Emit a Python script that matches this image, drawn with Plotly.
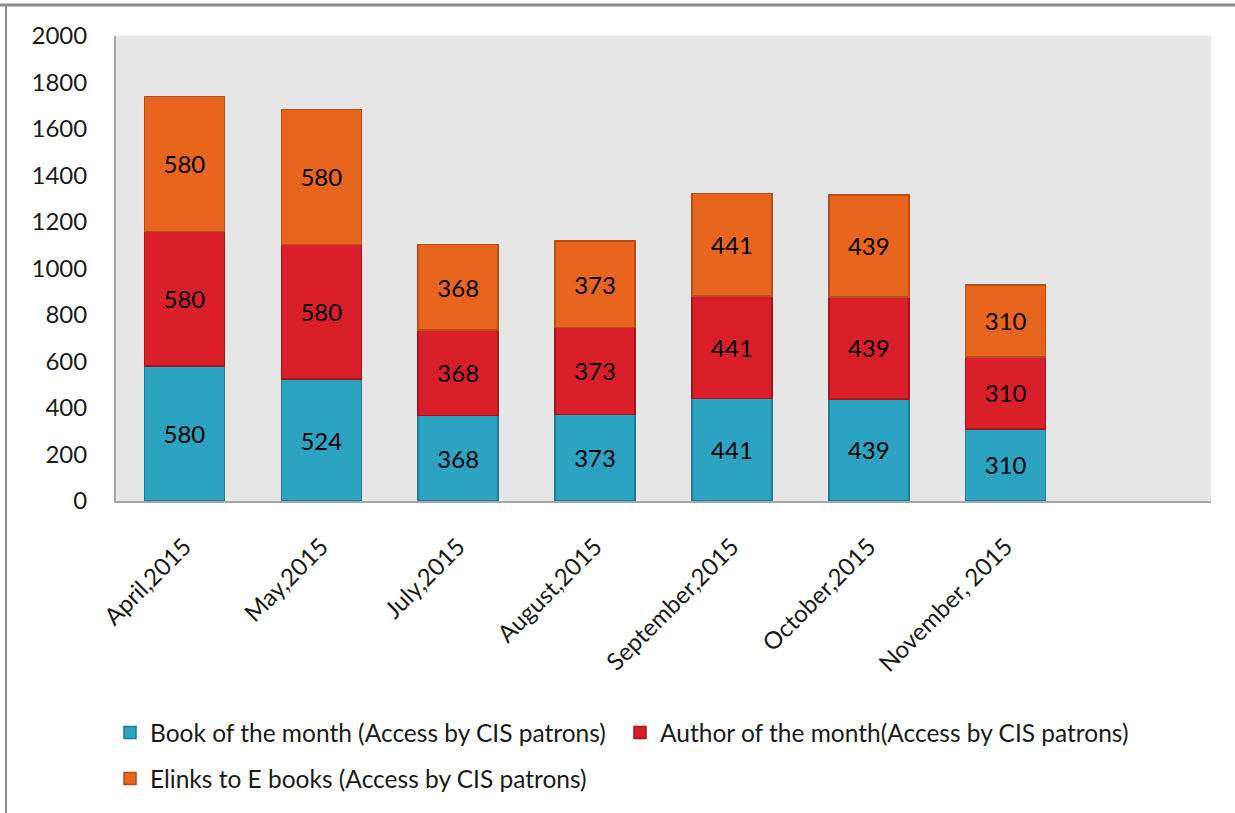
import plotly.graph_objects as go

months = ["April,2015", "May,2015", "July,2015", "August,2015",
          "September,2015", "October,2015", "November, 2015"]
book_of_month = [580, 524, 368, 373, 441, 439, 310]
author_of_month = [580, 580, 368, 373, 441, 439, 310]
elinks_ebooks = [580, 580, 368, 373, 441, 439, 310]

series_names = ["Book of the month (Access by CIS patrons)",
                "Author of the month(Access by CIS patrons)",
                "Elinks to E books (Access by CIS patrons)"]
series_values = [book_of_month, author_of_month, elinks_ebooks]
fill_colors = ["#2ca3c0", "#d91f2a", "#e8651d"]
edge_colors = ["#1f7d93", "#a5161e", "#b54e17"]
legend_ids = ["legend", "legend3", "legend2"]
y_ticks = [0, 200, 400, 600, 800, 1000, 1200, 1400, 1600, 1800, 2000]

FONT = "Lato, 'Open Sans', sans-serif"
FS = 24
LFS = 24.5

fig = go.Figure()
for name, vals, fc, ec, lg in zip(series_names, series_values, fill_colors,
                                  edge_colors, legend_ids):
    fig.add_trace(go.Bar(
        x=list(range(len(months))), y=vals, name=name, legend=lg,
        marker=dict(color=fc, line=dict(color=ec, width=1.5)),
        width=0.585,
        text=[str(v) for v in vals], textposition="inside",
        insidetextanchor="middle", constraintext="none",
        textfont=dict(color="#000000", size=FS, family=FONT),
        hoverinfo="skip",
    ))

W, H = 1235, 813
L, R, T, B = 116, 24, 36, 312
pw, ph = W - L - R, H - T - B


def px_x(p):
    return (p - L) / pw


def px_y(p):
    return (H - B - p) / ph


def cont_x(p):
    return p / W


def cont_y(p):
    return 1 - p / H


legend_common = dict(orientation="h", xanchor="left", yanchor="top",
                     xref="container", yref="container",
                     font=dict(size=LFS, family=FONT, color="#1a1a1a"),
                     itemwidth=30, tracegroupgap=0, traceorder="normal",
                     bgcolor="rgba(0,0,0,0)")

fig.update_layout(
    width=W, height=H, barmode="stack",
    margin=dict(l=L, r=R, t=T, b=B, autoexpand=False),
    paper_bgcolor="white", plot_bgcolor="#e6e6e6",
    font=dict(family=FONT, size=FS, color="#1a1a1a"),
    showlegend=True,
    legend=dict(x=cont_x(110), y=cont_y(710), **legend_common),
    legend3=dict(x=cont_x(620), y=cont_y(710), **legend_common),
    legend2=dict(x=cont_x(110), y=cont_y(756), **legend_common),
    shapes=[
        dict(type="line", xref="paper", yref="paper",
             x0=px_x(0), x1=px_x(1235), y0=px_y(5), y1=px_y(5),
             line=dict(color="#8c8c8c", width=3)),
        dict(type="line", xref="paper", yref="paper",
             x0=px_x(6), x1=px_x(6), y0=px_y(5), y1=px_y(813),
             line=dict(color="#8c8c8c", width=2)),
        dict(type="rect", xref="paper", yref="paper",
             x0=0, x1=1, y0=0, y1=1,
             line=dict(color="#ededed", width=1), layer="below"),
    ],
)
fig.update_xaxes(
    tickmode="array", tickvals=list(range(len(months))), ticktext=months,
    range=[-0.5, 7.5], tickangle=-45, showgrid=False, zeroline=False,
    showline=True, linecolor="#a6a6a6", linewidth=2, ticks="",
    ticklabelstandoff=20, automargin=False,
    tickfont=dict(size=FS, family=FONT, color="#1a1a1a"),
)
fig.update_yaxes(
    range=[0, 2000], tickmode="array", tickvals=y_ticks,
    showgrid=False, zeroline=False, showline=True, linecolor="#a6a6a6",
    linewidth=2, ticks="", ticklabelstandoff=22, automargin=False,
    tickfont=dict(size=FS, family=FONT, color="#1a1a1a"),
)

fig.write_html("out.html",
               config={"displayModeBar": False},
               post_script="document.body.style.margin='0';"
                           "document.body.style.overflow='hidden';")
